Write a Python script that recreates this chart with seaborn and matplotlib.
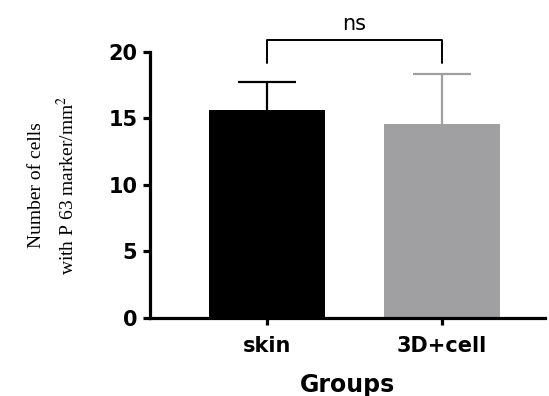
import numpy as np
import pandas as pd
import matplotlib
matplotlib.use("Agg")
import matplotlib.pyplot as plt
import seaborn as sns

groups = ["skin", "3D+cell"]
means = [15.6, 14.6]
sds = [2.1, 3.7]
bar_colors = ["#000000", "#A0A0A2"]

df = pd.DataFrame({"group": groups, "value": means})

sns.set_style("ticks", {"axes.edgecolor": "black", "text.color": "black",
                        "xtick.color": "black", "ytick.color": "black",
                        "axes.labelcolor": "black"})
plt.rcParams['font.family'] = ['DejaVu Sans']
plt.rcParams['mathtext.fontset'] = 'stix'

fig = plt.figure(figsize=(5.49, 3.96), dpi=100)
ax = fig.add_axes([0.273, 0.197, 0.72, 0.672])

sns.barplot(data=df, x="group", y="value", hue="group", palette=bar_colors,
            errorbar=None, width=0.66, legend=False, ax=ax, edgecolor="none",
            zorder=2)

# upper-only error bars, GraphPad style (drawn behind the bars)
for i, (m, s, c) in enumerate(zip(means, sds, bar_colors)):
    _, caps, _ = ax.errorbar(i, m, yerr=[[0], [s]], fmt="none", ecolor=c,
                             elinewidth=1.6, capsize=21, capthick=1.6,
                             zorder=1)
    caps[0].set_visible(False)  # drop the cap sitting on the bar top

ax.set_xlim(-0.67, 1.59)
ax.set_ylim(0, 20)
ax.set_yticks([0, 5, 10, 15, 20])

# significance bracket
by, bh = 19.2, 1.7
ax.plot([0, 0, 1, 1], [by, by + bh, by + bh, by], color="black", lw=1.4,
        clip_on=False)
ax.text(0.5, by + bh + 0.45, "ns", ha="center", va="bottom", fontsize=15,
        color="black")

sns.despine(ax=ax)
for sp in ["left", "bottom"]:
    ax.spines[sp].set_linewidth(2.3)
    ax.spines[sp].set_zorder(3)
ax.tick_params(width=2.3, length=5, labelsize=15, pad=4, colors="black")
ax.tick_params(axis="x", pad=8)
for lab in ax.get_xticklabels() + ax.get_yticklabels():
    lab.set_fontweight("bold")

ax.set_xlabel("Groups", fontsize=17, fontweight="bold", labelpad=12,
              color="black")
ax.set_ylabel("Number of cells\nwith P 63 marker/mm$^2$", fontsize=14,
              family="Liberation Serif", linespacing=1.6, labelpad=22,
              color="black")

fig.savefig("out.png", dpi=100)
